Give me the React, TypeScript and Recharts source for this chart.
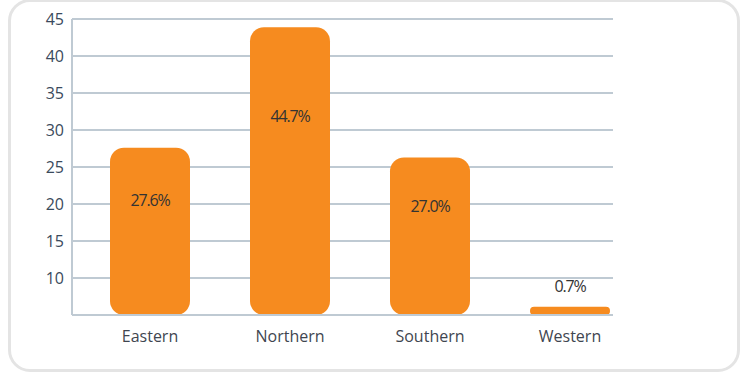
import { Bar, BarChart, CartesianGrid, LabelList, XAxis, YAxis } from "recharts";

const regions = ["Eastern", "Northern", "Southern", "Western"];
const barValues = [27.6, 43.9, 26.3, 6.1];
const shareLabels = ["27.6%", "44.7%", "27.0%", "0.7%"];
const yTicks = [10, 15, 20, 25, 30, 35, 40, 45];

const data = regions.map((region, i) => ({
  region,
  value: barValues[i],
  share: shareLabels[i],
}));

const ORANGE = "#F68B1F";
const GRID = "#bfcad3";
const FONT = "'Open Sans', sans-serif";

function RoundedBar(props: any) {
  const { x, y, width, height } = props;
  if (!height || height <= 0) return null;
  const r = Math.min(14, height / 2, width / 2);
  return <rect x={x} y={y} width={width} height={height} rx={r} ry={r} fill={ORANGE} />;
}

function ShareLabel(props: any) {
  const { x, y, width, height, value } = props;
  const cx = x + width / 2;
  const cy = height < 40 ? y - 21 : y + height * 0.31;
  return (
    <text
      x={cx}
      y={cy}
      textAnchor="middle"
      dominantBaseline="central"
      fontFamily={FONT}
      fontSize={16}
      letterSpacing={-1.2}
      fill="#333"
    >
      {value}
    </text>
  );
}

export default function App() {
  return (
    <div style={{ position: "absolute", left: 0, top: 0, width: 746, height: 374, background: "#fff" }}>
      <div
        style={{
          position: "absolute",
          left: 8,
          top: -1,
          width: 732,
          height: 373,
          border: "3px solid #e4e4e4",
          borderRadius: 22,
          boxSizing: "border-box",
        }}
      />
      <div style={{ position: "absolute", left: 0, top: 0, width: 613, height: 374, overflow: "hidden" }}>
        <BarChart
          width={650}
          height={374}
          data={data}
          margin={{ top: 19, right: 10, left: 0, bottom: 0 }}
          barSize={80}
        >
          <CartesianGrid horizontal vertical={false} stroke={GRID} strokeWidth={2} />
          <XAxis
            dataKey="region"
            height={59}
            padding={{ left: 8, right: 0 }}
            axisLine={{ stroke: GRID, strokeWidth: 2 }}
            tickLine={false}
            tickMargin={10}
            tick={{ fill: "#3f4650", fontSize: 16, fontFamily: FONT }}
            interval={0}
          />
          <YAxis
            width={72}
            domain={[5, 45]}
            ticks={yTicks}
            allowDataOverflow
            axisLine={{ stroke: GRID, strokeWidth: 2 }}
            tickLine={false}
            tick={{ fill: "#3a4a5c", fontSize: 16, fontFamily: FONT }}
          />
          <Bar dataKey="value" shape={<RoundedBar />} isAnimationActive={false}>
            <LabelList dataKey="share" content={<ShareLabel />} />
          </Bar>
        </BarChart>
      </div>
    </div>
  );
}
